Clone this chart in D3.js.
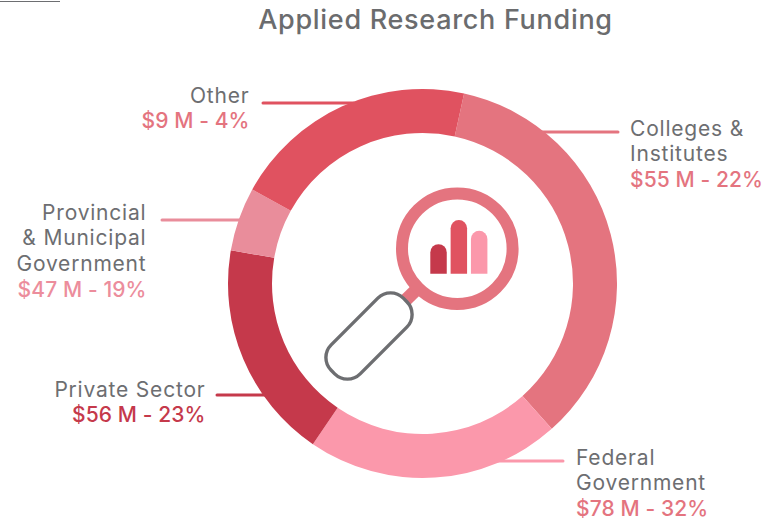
<!DOCTYPE html>
<html>
<head>
<meta charset="utf-8">
<script src="https://cdn.jsdelivr.net/npm/d3@7"></script>
<style>
html, body { margin: 0; padding: 0; background: #fff; }
svg { display: block; }
text { font-family: Inter, "Open Sans", sans-serif; }
</style>
</head>
<body>
<div id="chart"></div>
<script>
var categories = ['Colleges & Institutes', 'Federal Government', 'Private Sector', 'Provincial & Municipal Government', 'Other'];
// ring sweep (it does not follow the printed figures)
var arcShares = [35.0, 21.1, 18.2, 5.3, 20.4];
var amounts = ['$55 M - 22%', '$78 M - 32%', '$56 M - 23%', '$47 M - 19%', '$9 M - 4%'];
var nameLines = [['Colleges &', 'Institutes'], ['Federal', 'Government'], ['Private Sector'], ['Provincial', '& Municipal', 'Government'], ['Other']];
var sliceColors = ['#e4747f', '#fb98ab', '#c5394b', '#e98d9b', '#e05260'];
var amountColors = ['#e4747f', '#e4747f', '#c5394b', '#ec8d9c', '#e4747f'];
var iconValues = [55, 100, 80];
var iconColors = ['#c5394b', '#e05260', '#fb98ab'];

var width = 780, height = 520;
var cx = 422.5, cy = 283.5, outerR = 194.5, innerR = 150.5;
var startDeg = 12.35;

// label block and leader line for each slice, same order as categories
var callouts = [
    {anchor: 'start', x: 630, y: 135.5, lineY: 132, lineEnd: 618},
    {anchor: 'start', x: 576, y: 464.5, lineY: 461, lineEnd: 563},
    {anchor: 'end', x: 205.5, y: 396.5, lineY: 395, lineEnd: 217},
    {anchor: 'end', x: 146.5, y: 219.5, lineY: 220, lineEnd: 162},
    {anchor: 'end', x: 249.5, y: 102.5, lineY: 103, lineEnd: 263}
];

var svg = d3.select('#chart').append('svg')
    .attr('width', width)
    .attr('height', height);

svg.append('line')
    .attr('x1', 0).attr('x2', 60)
    .attr('y1', 1.5).attr('y2', 1.5)
    .style('stroke', '#6d6e71')
    .style('stroke-width', 1);

svg.append('text')
    .attr('x', 435.5).attr('y', 28.5)
    .attr('text-anchor', 'middle')
    .style('font-size', '27px')
    .style('font-weight', 500)
    .style('letter-spacing', '0.7px')
    .style('fill', '#6b6c6e')
    .text('Applied Research Funding');

// leaders go under the ring and finish inside its band
svg.selectAll('.leader').data(callouts).enter().append('line')
    .attr('class', 'leader')
    .attr('x1', function (d) { return d.lineEnd; })
    .attr('x2', function (d) {
        var dy = d.lineY - cy;
        var reach = Math.sqrt(outerR * outerR - dy * dy) - 4;
        return d.anchor === 'start' ? cx + reach : cx - reach;
    })
    .attr('y1', function (d) { return d.lineY; })
    .attr('y2', function (d) { return d.lineY; })
    .style('stroke', function (d, i) { return sliceColors[i]; })
    .style('stroke-width', 3)
    .style('stroke-linecap', 'round');

var start = startDeg * Math.PI / 180;
var pie = d3.pie().sort(null).startAngle(start).endAngle(start + 2 * Math.PI);
var arc = d3.arc().innerRadius(innerR).outerRadius(outerR);

svg.append('g')
    .attr('transform', 'translate(' + cx + ',' + cy + ')')
    .selectAll('path').data(pie(arcShares)).enter().append('path')
    .attr('d', arc)
    .style('fill', function (d, i) { return sliceColors[i]; });

callouts.forEach(function (c, i) {
    var block = svg.append('text')
        .attr('text-anchor', c.anchor)
        .style('font-size', '21px');
    nameLines[i].forEach(function (line, j) {
        block.append('tspan')
            .attr('x', c.x)
            .attr('y', c.y + j * 25.8)
            .style('fill', '#6d6e71')
            .style('letter-spacing', '0.8px')
            .text(line);
    });
    block.append('tspan')
        .attr('x', c.x)
        .attr('y', c.y + nameLines[i].length * 25.8)
        .style('fill', amountColors[i])
        .style('font-weight', 500)
        .style('letter-spacing', '0.1px')
        .text(amounts[i]);
});

// magnifier icon
var lensX = 457.3, lensY = 248.7;
var handleX = 369, handleY = 336;
var diag = Math.SQRT1_2;
var icon = svg.append('g');

icon.append('line')
    .attr('x1', lensX - 55 * diag).attr('y1', lensY + 55 * diag)
    .attr('x2', handleX).attr('y2', handleY)
    .style('stroke', '#e4747f')
    .style('stroke-width', 13);

icon.append('circle')
    .attr('cx', lensX).attr('cy', lensY).attr('r', 55.3)
    .style('fill', 'none')
    .style('stroke', '#e4747f')
    .style('stroke-width', 12);

icon.append('rect')
    .attr('x', -51).attr('y', -20.5)
    .attr('width', 102).attr('height', 41)
    .attr('rx', 18).attr('ry', 18)
    .attr('transform', 'translate(' + handleX + ',' + handleY + ') rotate(-45)')
    .style('fill', '#fff')
    .style('stroke', '#6d6e71')
    .style('stroke-width', 3.4);

var barX = d3.scaleBand().domain(d3.range(iconValues.length)).range([430.3, 487.4]).paddingInner(0.19);
var barY = d3.scaleLinear().domain([0, 100]).range([273.7, 220]);

icon.selectAll('.icon-bar').data(iconValues).enter().append('path')
    .attr('class', 'icon-bar')
    .attr('d', function (d, i) {
        var x = barX(i), w = barX.bandwidth(), r = w / 2;
        return 'M' + x + ',' + barY(0) +
            'V' + (barY(d) + r) +
            'A' + r + ',' + r + ' 0 0 1 ' + (x + w) + ',' + (barY(d) + r) +
            'V' + barY(0) + 'Z';
    })
    .style('fill', function (d, i) { return iconColors[i]; });
</script>
</body>
</html>
